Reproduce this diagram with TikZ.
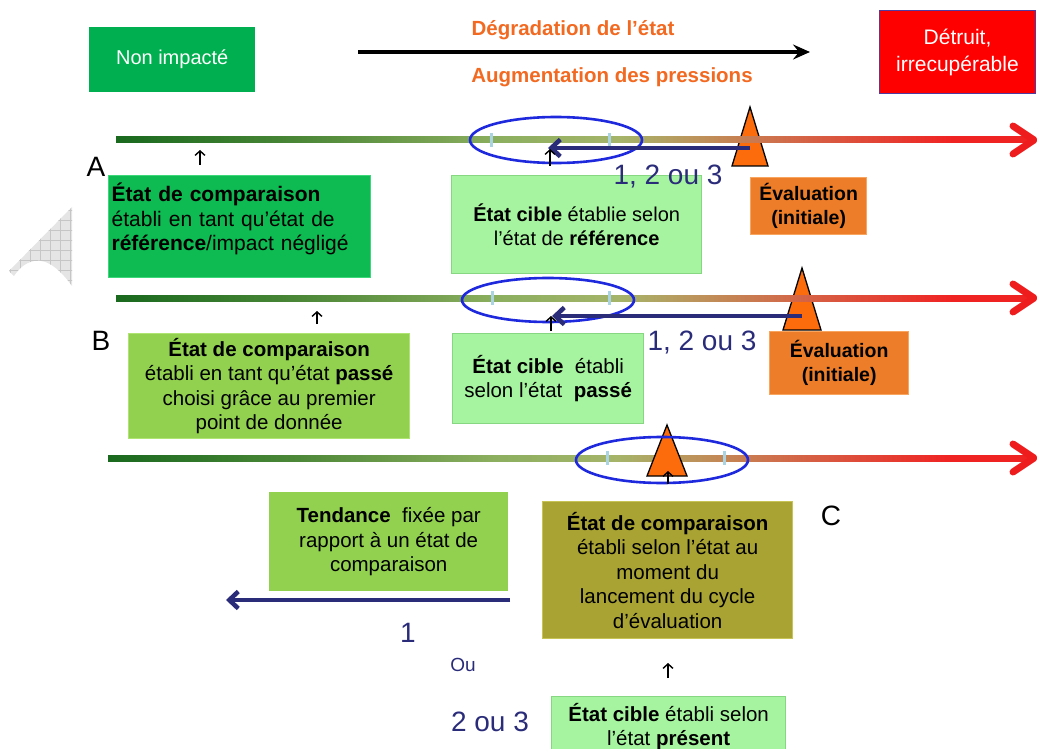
\documentclass[tikz,border=0pt]{standalone}
\usepackage{fontspec}
\setmainfont{Liberation Sans}
\usetikzlibrary{arrows.meta,shapes.geometric}
\definecolor{gnA}{RGB}{0,176,80}
\definecolor{gnBox}{RGB}{14,186,82}
\definecolor{gnBoxEdge}{RGB}{60,215,120}
\definecolor{gnLight}{RGB}{166,244,160}
\definecolor{gnLightEdge}{RGB}{135,215,130}
\definecolor{gnYel}{RGB}{146,208,80}
\definecolor{gnYelEdge}{RGB}{175,228,115}
\definecolor{olv}{RGB}{168,163,50}
\definecolor{olvEdge}{RGB}{200,195,85}
\definecolor{evalor}{RGB}{237,125,40}
\definecolor{evalorEdge}{RGB}{248,165,95}
\definecolor{triOr}{RGB}{252,108,12}
\definecolor{txtor}{RGB}{242,106,33}
\definecolor{navy}{RGB}{42,44,122}
\definecolor{ellblue}{RGB}{30,40,220}
\definecolor{tickblue}{RGB}{170,212,225}
\definecolor{redX}{RGB}{255,0,0}
\definecolor{redEdge}{RGB}{80,60,160}
\definecolor{redHead}{RGB}{238,28,28}
\definecolor{lgA}{RGB}{25,105,30}
\definecolor{lgB}{RGB}{75,135,55}
\definecolor{lgC}{RGB}{140,175,95}
\definecolor{lgD}{RGB}{165,180,105}
\definecolor{lgE}{RGB}{190,145,90}
\definecolor{lgF}{RGB}{212,100,70}
\definecolor{lgG}{RGB}{240,35,35}
\pgfdeclarehorizontalshading{stateline}{100bp}{color(0bp)=(lgA); color(25bp)=(lgA); color(35bp)=(lgB); color(46bp)=(lgC); color(52.6bp)=(lgD); color(57bp)=(lgE); color(62.5bp)=(lgF); color(70.7bp)=(lgG); color(75bp)=(lgG); color(100bp)=(lgG)}
\newcommand\myfs[2]{\fontsize{#1}{#2}\selectfont}
\begin{document}
\begin{tikzpicture}[x=1pt,y=-1pt,
  box/.style={rectangle, anchor=north west, align=center, inner sep=0pt, font=\myfs{20.5}{24.5}, text=black},
  bevel/.style={draw=#1, line width=1.3pt},
  stline/.style={shading=stateline},
  redhead/.style={draw=redHead, line width=7pt, line cap=round, line join=round},
  tri/.style={fill=triOr, draw=black, line width=1.3pt, line join=miter},
  ell/.style={ellipse, draw=ellblue, line width=2.6pt, inner sep=0pt},
  tickmark/.style={draw=tickblue, line width=3pt},
  navyarr/.style={draw=navy, line width=4.5pt, -{Straight Barb[length=9pt,width=17pt]}},
  smallarr/.style={draw=black, line width=1.4pt, -{Straight Barb[length=4.5pt,width=10pt]}},
  navytxt/.style={text=navy, font=\myfs{28}{32}, inner sep=0pt},
  bigtxt/.style={text=black, font=\myfs{28}{32}, inner sep=0pt},
  ortxt/.style={text=txtor, font=\myfs{20.5}{24}\bfseries, inner sep=0pt}
]
\useasboundingbox (0,0) rectangle (1037,749);
\clip (0,0) rectangle (1037,749);

% watermark shape
\begin{scope}
\clip (9,271) -- (72,207) -- (72,286) .. controls (62,272) and (48,258) .. (34,261) .. controls (24,263) and (18,270) .. (14,276) -- cycle;
\fill[gray!20] (0,200) rectangle (80,290);
\draw[gray!45, line width=0.6pt] (0,200) grid[step=10pt] (80,290);
\end{scope}

% top header
\node[box, fill=gnA, minimum width=166pt, minimum height=65pt, text=white, font=\myfs{20}{24}] (nonimp) at (89,27) {Non impacté};
\node[box, fill=redX, draw=redEdge, line width=1pt, minimum width=156pt, minimum height=83pt, text=white, font=\myfs{21}{27}] (detruit) at (879,10) {Détruit,\\irrecupérable};
\node[ortxt] (degr) at (573,30) {Dégradation de l’état};
\node[ortxt] (augm) at (612,77) {Augmentation des pressions};
\coordinate (topL) at (358,52);
\coordinate (topR) at (810,52);
\draw[line width=3.5pt, -{Stealth[length=17pt,width=15pt,inset=6pt]}] (topL) -- (topR);

% ===== Row A =====
\node[box, align=left, fill=gnBox, bevel=gnBoxEdge, minimum width=262pt, minimum height=102pt, text width=256pt, inner xsep=3pt, font=\myfs{21}{24.5}] (compA) at (108,175)
  {\textbf{État de comparaison}\\établi en tant qu’état de\\\textbf{référence}/impact négligé\\[-5pt]\mbox{}};
\node[box, fill=gnLight, bevel=gnLightEdge, minimum width=250pt, minimum height=98pt, font=\myfs{20}{24.5}] (cibleA) at (451,175)
  {\textbf{État cible} établie selon\\l’état de \textbf{référence}};
\node[box, fill=evalor, bevel=evalorEdge, minimum width=116pt, minimum height=57pt, font=\myfs{19.5}{24}\bfseries] (evalA) at (750,177)
  {Évaluation\\(initiale)};
\coordinate (tA) at (750,107);
\filldraw[tri] (tA) -- (768,166) -- (732,166) -- cycle;
\shade[stline] (116,137) rectangle (1030,143);
\coordinate (headA) at (1034,140);
\draw[redhead] (headA) ++(-21,-14) -- (headA) -- ++(-21,14);
\draw[tickmark] (491,133) -- (491,147);
\draw[tickmark] (609,133) -- (609,147);
\node[ell, minimum width=172pt, minimum height=46pt] (ellA) at (556,140) {};
\coordinate (srcA) at (750,148);
\coordinate (tipA) at (548,148);
\draw[navyarr] (srcA) -- (tipA);
\coordinate (upA1s) at (200,165); \coordinate (upA1e) at (200,150);
\draw[smallarr] (upA1s) -- (upA1e);
\coordinate (upA2s) at (550,166); \coordinate (upA2e) at (550,149);
\draw[smallarr] (upA2s) -- (upA2e);
\node[bigtxt] (labA) at (96,167) {A};
\node[navytxt] (n123A) at (668,177) {1, 2 ou 3};

% ===== Row B =====
\node[box, fill=gnYel, bevel=gnYelEdge, minimum width=281pt, minimum height=105pt] (compB) at (128,333)
  {\textbf{État de comparaison}\\établi en tant qu’état \textbf{passé}\\choisi grâce au premier\\point de donnée};
\node[box, fill=gnLight, bevel=gnLightEdge, minimum width=191pt, minimum height=90pt] (cibleB) at (452,333)
  {\textbf{État cible}\ \ établi\\selon l’état\ \ \textbf{passé}};
\node[box, fill=evalor, bevel=evalorEdge, minimum width=139pt, minimum height=63pt, font=\myfs{19.5}{24}\bfseries] (evalB) at (769,331)
  {Évaluation\\(initiale)};
\coordinate (tB) at (802,268);
\filldraw[tri] (tB) -- (821,330) -- (783,330) -- cycle;
\shade[stline] (116,295) rectangle (1030,301);
\coordinate (headB) at (1034,298);
\draw[redhead] (headB) ++(-21,-14) -- (headB) -- ++(-21,14);
\draw[tickmark] (492,291) -- (492,305);
\draw[tickmark] (609,291) -- (609,305);
\node[ell, minimum width=172pt, minimum height=44pt] (ellB) at (548,300) {};
\coordinate (srcB) at (802,316);
\coordinate (tipB) at (552,316);
\draw[navyarr] (srcB) -- (tipB);
\coordinate (upB1s) at (317,324); \coordinate (upB1e) at (317,311);
\draw[smallarr] (upB1s) -- (upB1e);
\coordinate (upB2s) at (551,331); \coordinate (upB2e) at (551,316);
\draw[smallarr] (upB2s) -- (upB2e);
\node[bigtxt] (labB) at (101,341) {B};
\node[navytxt] (n123B) at (702,343) {1, 2 ou 3};

% ===== Row C =====
\node[box, fill=gnYel, minimum width=239pt, minimum height=99pt] (tend) at (269,492)
  {\textbf{Tendance}\ \ fixée par\\rapport à un état de\\comparaison};
\node[box, fill=olv, bevel=olvEdge, minimum width=250pt, minimum height=137pt] (compC) at (542,501)
  {\textbf{État de comparaison}\\établi selon l’état au\\moment du\\lancement du cycle\\d’évaluation};
\node[box, fill=gnLight, bevel=gnLightEdge, minimum width=234pt, minimum height=60pt] (cibleC) at (551,696)
  {\textbf{État cible} établi selon\\l’état \textbf{présent}};
\shade[stline] (108,455) rectangle (1030,461);
\coordinate (headC) at (1034,458);
\draw[redhead] (headC) ++(-21,-14) -- (headC) -- ++(-21,14);
\coordinate (tC) at (667,425);
\filldraw[tri] (tC) -- (687,476) -- (647,476) -- cycle;
\draw[tickmark] (607,451) -- (607,465);
\draw[tickmark] (724,451) -- (724,465);
\node[ell, minimum width=172pt, minimum height=46pt] (ellC) at (662,460) {};
\coordinate (upC1s) at (668,484); \coordinate (upC1e) at (668,471);
\draw[smallarr] (upC1s) -- (upC1e);
\coordinate (upC2s) at (668,678); \coordinate (upC2e) at (668,663);
\draw[smallarr] (upC2s) -- (upC2e);
\node[bigtxt] (labC) at (831,516) {C};
\coordinate (tendR) at (510,600);
\coordinate (tendL) at (226,600);
\draw[navyarr] (tendR) -- (tendL);
\node[navytxt] (n1) at (408,633) {1};
\node[navytxt, font=\myfs{19}{22}] (ou) at (463,665) {Ou};
\node[navytxt] (n23) at (490,722) {2 ou 3};
\end{tikzpicture}
\end{document}
